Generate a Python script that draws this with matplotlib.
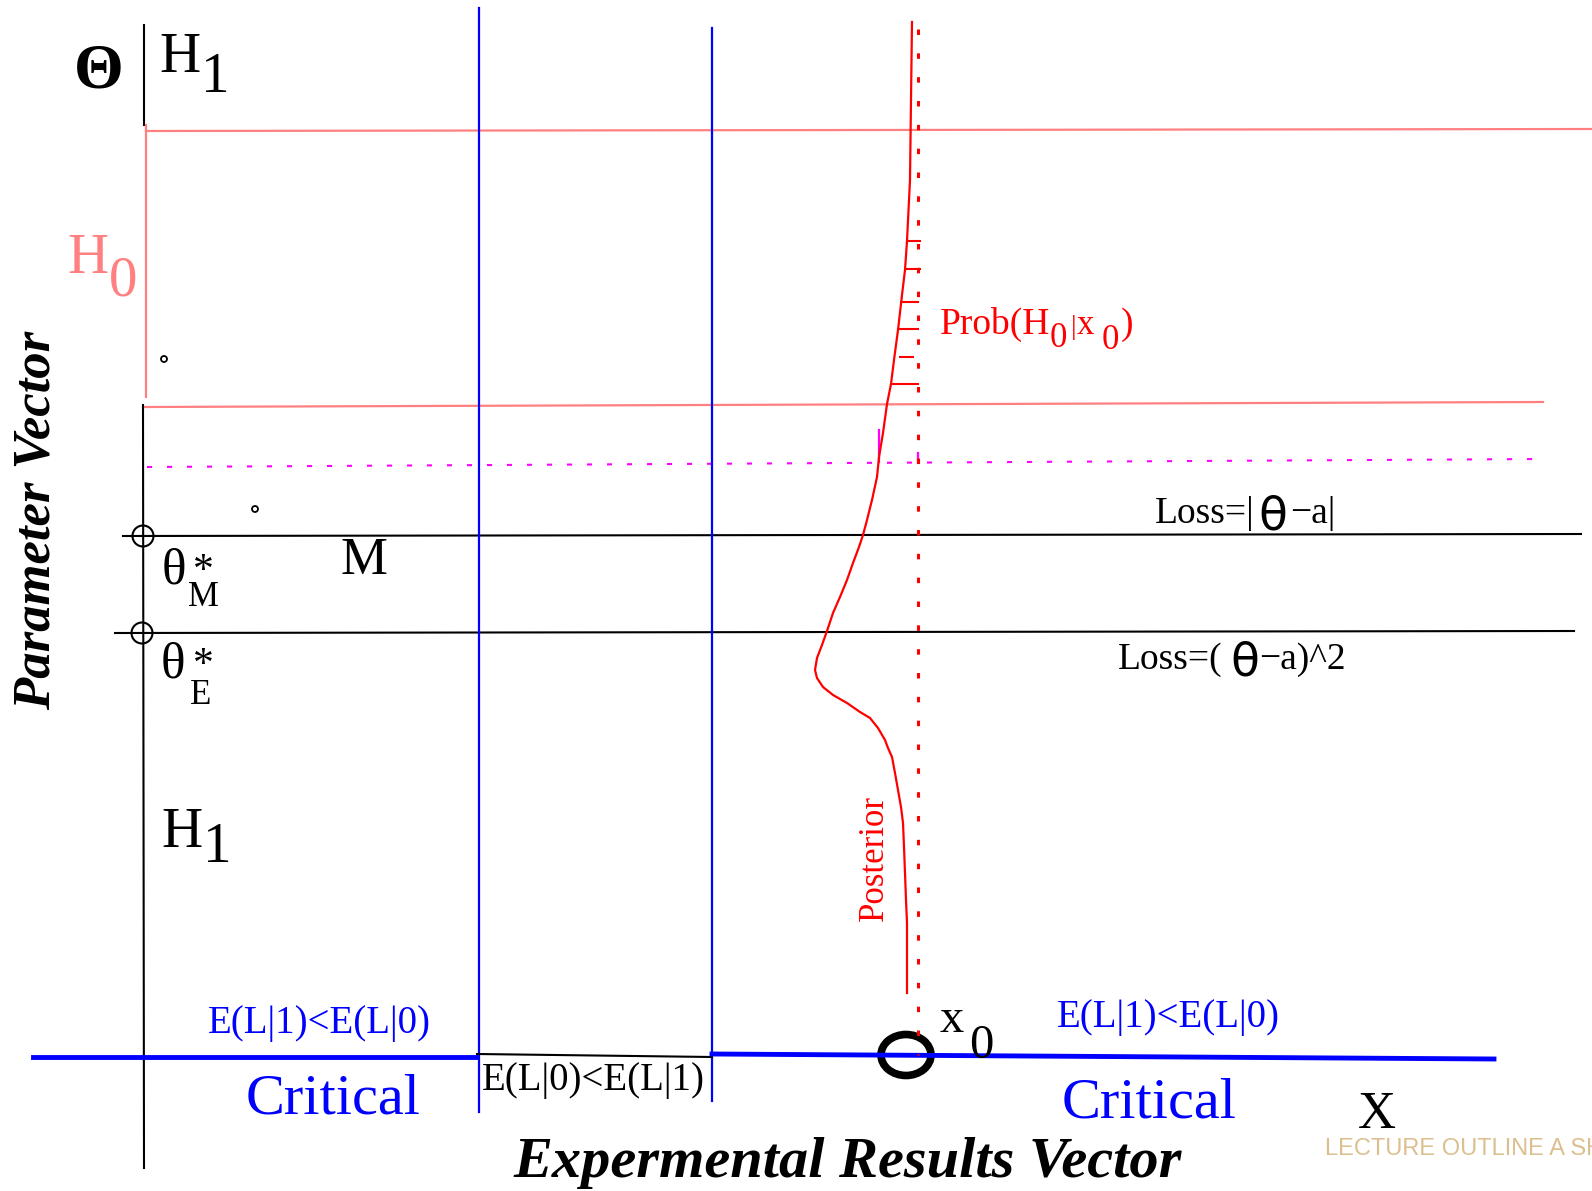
import matplotlib.pyplot as plt
from matplotlib.patches import Circle, Ellipse

# sketch is drawn in pixel units of the original picture (y goes down)
W, H = 1592, 1191

# posterior density
post_x = [912, 911, 910, 907, 905, 902, 898, 894, 891, 887, 883, 879, 877, 872, 867,
          863, 859, 853, 847, 840, 833, 827, 822, 817, 815, 817, 823, 833, 847, 860,
          870, 878, 885, 888, 892, 895, 898, 901, 903, 904, 905, 906, 907, 907, 907]
post_y = [22, 100, 180, 241, 270, 295, 330, 360, 384, 404, 433, 457, 477, 500, 520,
          535, 547, 563, 580, 597, 613, 631, 645, 658, 670, 678, 687, 695, 703, 712,
          718, 728, 740, 748, 757, 773, 790, 807, 823, 847, 873, 900, 923, 957, 993]

# hatching of the H0 part of the posterior
hatch_y = [241, 269, 302, 329, 357, 384]
hatch_x0 = [907, 906, 901, 898, 900, 891]
hatch_x1 = [920, 920, 918, 918, 913, 918]

# levels on the parameter axis
h0_top = 131
h0_bot = 407
theta_m = 536
theta_e = 633
threshold = 464
cuts = [479, 712]      # borders of the critical region
x0 = 918

SALMON = '#ff8080'
BLUE = '#0000ff'
RED = '#ff0000'
MAG = '#ff00ff'
SERIF = 'Liberation Serif'

fig = plt.figure(figsize=(W / 100, H / 100), dpi=100)
ax = fig.add_axes([0, 0, 1, 1])
ax.set_xlim(0, W)
ax.set_ylim(H, 0)
ax.axis('off')


def txt(x, y, s, size, color='black', **kw):
    ax.text(x, y, s, fontsize=size, color=color, family=SERIF,
            ha='left', va='baseline', **kw)


# --- parameter axis -----------------------------------------------------
ax.plot([144, 144], [25, 125], color='black', lw=1.5)
ax.plot([146, W], [h0_top, h0_top - 2], color=SALMON, lw=1.6)
ax.plot([146, 146], [125, 397], color=SALMON, lw=1.6)
ax.plot([143, 1543], [h0_bot, h0_bot - 5], color=SALMON, lw=1.6)
ax.plot([143, 144], [405, 1168], color='black', lw=1.5)
ax.plot([147, 1543], [threshold + 3, threshold - 5], color=MAG, lw=1.5, dashes=(2.4, 7.2))
ax.plot([879, 879], [430, 462], color=MAG, lw=1.6)
ax.plot([x0, x0], [453, 463], color=MAG, lw=1.6)

ax.plot([123, 1581], [theta_m, theta_m - 2], color='black', lw=1.5)
ax.plot([115, 1574], [theta_e, theta_e - 2], color='black', lw=1.5)
ax.add_patch(Circle((143, theta_m), 10.5, fill=False, ec='black', lw=1.5))
ax.add_patch(Circle((142, theta_e), 10.5, fill=False, ec='black', lw=1.5))
ax.add_patch(Circle((164, 359), 3, fill=False, ec='black', lw=1.3))
ax.add_patch(Circle((255, 509), 3, fill=False, ec='black', lw=1.3))

# --- decision regions ---------------------------------------------------
ax.plot([cuts[0], cuts[0]], [8, 1112], color=BLUE, lw=1.6)
ax.plot([cuts[1], cuts[1]], [28, 1101], color=BLUE, lw=1.6)
ax.plot([33, cuts[0] - 2], [1057, 1057], color=BLUE, lw=3.5)
ax.plot([cuts[0] - 2, cuts[1]], [1054, 1057], color='black', lw=1.5)
ax.plot([cuts[1], 1494], [1054, 1059], color=BLUE, lw=3.5)

# --- posterior ------------------------------------------------------------
ax.plot([x0, x0], [29, 1055], color=RED, lw=2.2, dashes=(1.8, 6.0))
ax.plot(post_x, post_y, color=RED, lw=1.6, solid_joinstyle='round')
for yy, xa, xb in zip(hatch_y, hatch_x0, hatch_x1):
    ax.plot([xa, xb], [yy, yy], color=RED, lw=1.5)
ax.add_patch(Ellipse((906, 1055), 50, 41, fill=False, ec='black', lw=5.5))

# --- labels ----------------------------------------------------------------
txt(74, 87, 'Θ', 46, weight='bold')
txt(159, 72, 'H', 41)
txt(201, 92, '1', 41)
txt(67, 273, 'H', 41, SALMON)
txt(109, 295, '0', 41, SALMON)
txt(161, 847, 'H', 41)
txt(203, 862, '1', 41)

txt(162, 583, 'θ', 37)
txt(193, 582, '*', 30)
txt(188, 606, 'M', 25)
txt(161, 677, 'θ', 37)
txt(193, 676, '*', 30)
txt(190, 704, 'E', 25)
txt(341, 574, 'M', 38)

txt(1155, 523, 'Loss=|', 27)
ax.text(1258, 529, 'θ', fontsize=34, family='DejaVu Sans',
        ha='left', va='baseline')
txt(1290, 523, '−a|', 27)
txt(1118, 669, 'Loss=(', 27)
ax.text(1230, 676, 'θ', fontsize=34, family='DejaVu Sans',
        ha='left', va='baseline')
txt(1259, 669, '−a)^2', 27)

txt(940, 334, 'Prob(H', 27, RED)
txt(1050, 347, '0', 25, RED)
txt(1071, 334, '|', 20, RED)
txt(1077, 334, 'x', 25, RED)
txt(1102, 349, '0', 25, RED)
txt(1121, 334, ')', 27, RED)
ax.text(874, 858, 'Posterior', fontsize=25, color=RED, family=SERIF,
        rotation=90, ha='center', va='center')

txt(208, 1033, 'E(L|1)<E(L|0)', 28, BLUE)
txt(1057, 1027, 'E(L|1)<E(L|0)', 28, BLUE)
txt(482, 1090, 'E(L|0)<E(L|1)', 28)
txt(246, 1113, 'Critical', 42, BLUE)
txt(1062, 1117, 'Critical', 42, BLUE)
txt(940, 1032, 'x', 35)
txt(969, 1058, '0', 35)
txt(1358, 1128, 'X', 38)
ax.text(1325, 1155, 'LECTURE OUTLINE A SH', fontsize=17, color='#dcbf8e',
        family='Liberation Sans', ha='left', va='baseline')

ax.text(37, 520, 'Parameter Vector', fontsize=38, family=SERIF, weight='bold',
        style='italic', rotation=90, ha='center', va='center')
ax.text(848, 1177, 'Expermental Results Vector', fontsize=42, family=SERIF,
        weight='bold', style='italic', ha='center', va='baseline')

fig.savefig('out.png', dpi=100)
